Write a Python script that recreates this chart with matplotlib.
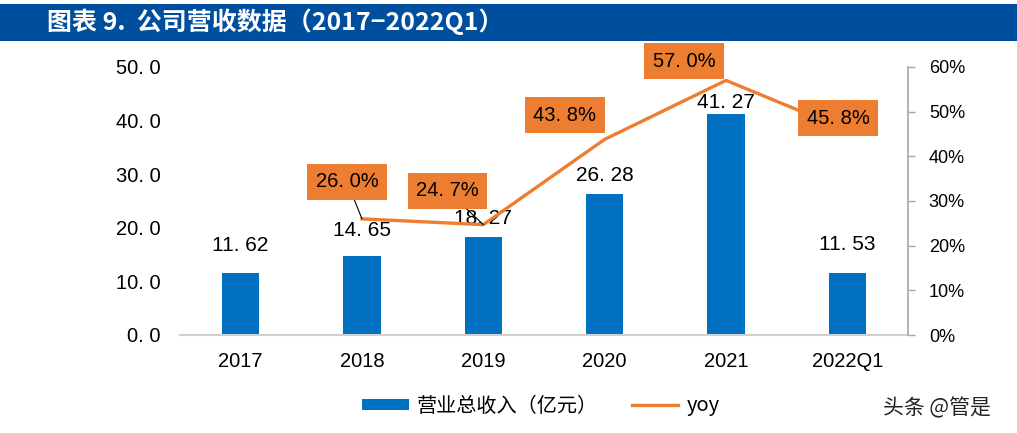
import numpy as np
import matplotlib.pyplot as plt
from matplotlib.patches import Rectangle
from matplotlib.lines import Line2D

plt.rcParams['font.family'] = ['Liberation Sans', 'Noto Sans CJK SC', 'DejaVu Sans']

# data
years = ["2017", "2018", "2019", "2020", "2021", "2022Q1"]
revenue = [11.62, 14.65, 18.27, 26.28, 41.27, 11.53]
yoy_years = ["2018", "2019", "2020", "2021", "2022Q1"]
yoy = [26.0, 24.7, 43.8, 57.0, 45.8]

BLUE = "#0070C0"
ORANGE = "#ED7D31"

fig = plt.figure(figsize=(10.17, 4.33), dpi=100)

# title banner
fig.patches.append(Rectangle((0, 1 - 41 / 433), 1, 37 / 433, transform=fig.transFigure,
                             facecolor="#004F9F", edgecolor="none", zorder=0))
fig.text(47 / 1017, 1 - 22 / 433, "图表 9.  公司营收数据（2017−2022Q1）", color="white",
         fontsize=18, fontweight="bold", va="center", ha="left",
         family=["Noto Sans CJK SC", "DejaVu Sans"])

ax = fig.add_axes([180 / 1017, 1 - 335 / 433, (908 - 180) / 1017, (335 - 67) / 433])
x = np.arange(len(years))
bars = ax.bar(x, revenue, width=0.31, color=BLUE, zorder=2)
ax.set_xlim(-0.5, len(years) - 0.5)
ax.set_ylim(0, 50)
ax.set_yticks(np.arange(0, 51, 10))
ax.set_yticklabels([f"{v:.1f}".replace(".", ". ") for v in np.arange(0, 51, 10)])
ax.set_xticks(x)
ax.set_xticklabels(years)
ax.tick_params(axis="y", length=0, pad=14, labelsize=14.5)
ax.tick_params(axis="x", length=0, pad=12, labelsize=14.5)
for s in ["top", "left", "right"]:
    ax.spines[s].set_visible(False)
ax.spines["bottom"].set_color("#D0D0D0")
ax.spines["bottom"].set_linewidth(1.5)

# bar value labels (offsets in pixels, as placed in the original)
bar_offsets = [18, 16, 9, 9, 2, 19]
for xi, v, off in zip(x, revenue, bar_offsets):
    ax.annotate(f"{v:.2f}".replace(".", ". "), (xi, v), xytext=(0, off),
                textcoords="offset pixels", ha="center", va="bottom", fontsize=15)

ax2 = ax.twinx()
xl = [years.index(y) for y in yoy_years]
ax2.plot(xl, yoy, color=ORANGE, lw=2.4, zorder=3)
ax2.set_ylim(0, 60)
ax2.set_yticks(np.arange(0, 61, 10))
ax2.set_yticklabels([f"{v}%" for v in range(0, 61, 10)])
ax2.tick_params(axis="y", length=5, width=1, color="#A6A6A6", pad=10, labelsize=13)
for s in ["top", "left", "bottom"]:
    ax2.spines[s].set_visible(False)
ax2.spines["right"].set_color("#A6A6A6")
ax2.spines["right"].set_linewidth(1.2)

yoy_offsets = [(-15, 37), (-36, 34), (-40, 24), (-42, 19), (-9, 12)]
for i, (xi, v, off) in enumerate(zip(xl, yoy, yoy_offsets)):
    arrow = dict(arrowstyle="-", color="black", lw=0.8, shrinkA=0, shrinkB=0) if i < 2 else None
    ax2.annotate(f"{v:.1f}".replace(".", ". ") + "%", (xi, v), xytext=off,
                 textcoords="offset pixels", ha="center", va="center", fontsize=14.5,
                 bbox=dict(boxstyle="square,pad=0.42", facecolor=ORANGE, edgecolor="none"),
                 arrowprops=arrow, zorder=5)

# legend
handles = [Rectangle((0, 0), 1, 1, facecolor=BLUE, edgecolor="none"),
           Line2D([0], [0], color=ORANGE, lw=2.4)]
fig.legend(handles, ["营业总收入（亿元）", "yoy"], loc="center", bbox_to_anchor=(541 / 1017, 1 - 406 / 433),
           ncol=2, frameon=False, handlelength=2.3, handleheight=0.5,
           handletextpad=0.4, columnspacing=1.7,
           prop={"family": ["Noto Sans CJK SC", "DejaVu Sans"], "size": 14.5})

# watermark
fig.text(937 / 1017, 1 - 408 / 433, "头条 @管是", color="#222222", fontsize=15,
         ha="center", va="center", family=["Noto Sans CJK SC", "DejaVu Sans"])

fig.savefig("out.png", dpi=100)
